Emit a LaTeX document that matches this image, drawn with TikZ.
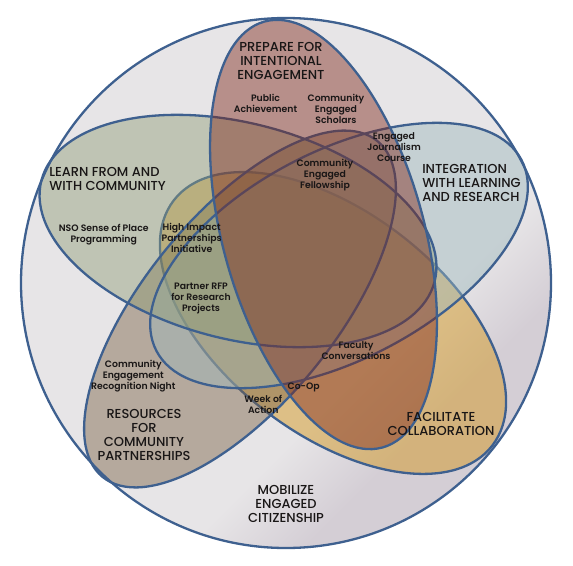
\documentclass[tikz,border=0pt]{standalone}
\usepackage{fontspec}
\setmainfont{Poppins}
\newfontfamily\ttlfont{Poppins Medium}
\newfontfamily\lblfont{Poppins SemiBold}
\definecolor{edge}{RGB}{62,96,143}
\definecolor{bgA}{RGB}{231,229,231}
\definecolor{bgB}{RGB}{212,206,213}
\definecolor{cRed}{RGB}{126,39,26}
\definecolor{cLearn}{RGB}{143,157,119}
\definecolor{cInt}{RGB}{157,184,188}
\definecolor{cFac}{RGB}{210,146,16}
\definecolor{cRes}{RGB}{121,97,68}
\definecolor{ink}{RGB}{25,22,22}
\pgfdeclareverticalshading{bgshade}{100bp}{color(0bp)=(bgB); color(31bp)=(bgB); color(39bp)=(bgA); color(100bp)=(bgA)}
\newcommand\VennFill[6]{\begin{scope}[shift={(#2,#3)},rotate=#4]\fill[#1,fill opacity=.45] (0,0) ellipse [x radius=#5, y radius=#6];\end{scope}}
\newcommand\VennEdge[5]{\begin{scope}[shift={(#1,#2)},rotate=#3]\draw[edge] (0,0) ellipse [x radius=#4, y radius=#5];\end{scope}}
\begin{document}
\begin{tikzpicture}[x=1pt,y=-1pt,line width=2.3pt,
  ttl/.style={font=\ttlfont\fontsize{13}{14}\selectfont,align=center,text=ink,inner sep=0pt},
  lbl/.style={font=\lblfont\fontsize{9.3}{11}\selectfont,align=center,text=ink,inner sep=0pt}]
\useasboundingbox (0,0) rectangle (573,565);
\fill[white] (0,0) rectangle (573,565);
% outer circle
\shade[shading=bgshade,shading angle=45] (286,283) circle [radius=265];
% Facilitate (bottom layer)
\VennFill{cFac}{333}{323}{-37.6}{201}{111}
\VennEdge{333}{323}{-37.6}{201}{111}
% Resources, Integration, Learn
\VennFill{cRes}{240}{309}{50.7}{217}{95}
\VennFill{cInt}{339}{255.5}{27.6}{206}{104}
\VennFill{cLearn}{238}{231}{-14.4}{203}{108}
\VennEdge{240}{309}{50.7}{217}{95}
\VennEdge{339}{255.5}{27.6}{206}{104}
\VennEdge{238}{231}{-14.4}{203}{108}
% Prepare (top layer)
\VennFill{cRed}{323.5}{234.5}{15.5}{100.5}{221}
\VennEdge{323.5}{234.5}{15.5}{100.5}{221}
\draw[edge] (286,283) circle [radius=265];
% titles
\node[ttl] (prep) at (281,60.5) {PREPARE FOR\\INTENTIONAL\\ENGAGEMENT};
\node[ttl,align=left] (learn) at (107.5,178.5) {LEARN FROM AND\\WITH COMMUNITY};
\node[ttl,align=left] (integ) at (471.5,183) {INTEGRATION\\WITH LEARNING\\AND RESEARCH};
\node[ttl] (facil) at (441,423.7) {FACILITATE\\COLLABORATION};
\node[ttl] (resou) at (144,434.5) {RESOURCES\\FOR\\COMMUNITY\\PARTNERSHIPS};
\node[ttl] (mobil) at (286,503.5) {MOBILIZE\\ENGAGED\\CITIZENSHIP};
% labels
\node[lbl] (pa) at (265.5,103) {Public\\Achievement};
\node[lbl] (ces) at (336,109) {Community\\Engaged\\Scholars};
\node[lbl] (ejc) at (394,147) {Engaged\\Journalism\\Course};
\node[lbl] (cef) at (325,175.3) {Community\\Engaged\\Fellowship};
\node[lbl] (nso) at (103.7,234.5) {NSO Sense of Place\\Programming};
\node[lbl] (hip) at (191.7,237.5) {High Impact\\Partnerships\\Initiative};
\node[lbl] (rfp) at (201,298.5) {Partner RFP\\for Research\\Projects};
\node[lbl] (cern) at (133.3,376.3) {Community\\Engagement\\Recognition Night};
\node[lbl] (fac) at (356,350.7) {Faculty\\Conversations};
\node[lbl] (coop) at (303.7,387.7) {Co-Op};
\node[lbl] (woa) at (263.3,404.3) {Week of\\Action};
\end{tikzpicture}
\end{document}
